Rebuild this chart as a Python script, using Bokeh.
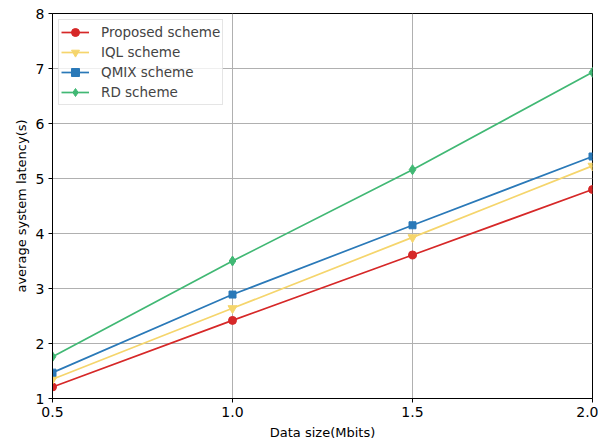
from bokeh.plotting import figure
from bokeh.embed import file_html
from bokeh.resources import INLINE
from bokeh.models import FixedTicker, Range1d

data_size = [0.5, 1.0, 1.5, 2.0]
proposed = [1.21, 2.42, 3.61, 4.80]
iql = [1.35, 2.64, 3.93, 5.23]
qmix = [1.47, 2.89, 4.15, 5.40]
rd = [1.76, 3.50, 5.16, 6.93]

series = [
    ("Proposed scheme", proposed, "#d62828", "circle", 8),
    ("IQL scheme", iql, "#f5d56c", "inverted_triangle", 9),
    ("QMIX scheme", qmix, "#2a79b8", "square", 7),
    ("RD scheme", rd, "#41b874", "diamond", 10),
]

FONT = "DejaVu Sans"

p = figure(width=598, height=445, output_backend="svg", toolbar_location=None,
           x_range=Range1d(0.5, 2.0), y_range=Range1d(1, 8),
           min_border_left=52, min_border_right=6, min_border_top=13, min_border_bottom=47)

for name, ys, color, marker, size in series:
    p.line(data_size, ys, line_color=color, line_width=1.7, legend_label=name)
    p.scatter(data_size, ys, marker=marker, size=size, fill_color=color,
              line_color=color, legend_label=name)

p.xaxis.ticker = FixedTicker(ticks=data_size)
p.xaxis.major_label_overrides = {0.5: "0.5", 1.0: "1.0", 1.5: "1.5", 2.0: "2.0"}
p.yaxis.ticker = FixedTicker(ticks=[1, 2, 3, 4, 5, 6, 7, 8])

for ax in (p.xaxis, p.yaxis):
    ax.axis_line_color = "black"
    ax.axis_line_width = 1
    ax.major_tick_in = 0
    ax.major_tick_out = 4
    ax.major_tick_line_color = "black"
    ax.minor_tick_line_color = None
    ax.major_label_text_font = FONT
    ax.major_label_text_font_size = "14px"
    ax.major_label_text_color = "black"
    ax.axis_label_text_font = FONT
    ax.axis_label_text_font_size = "13px"
    ax.axis_label_text_font_style = "normal"
    ax.axis_label_text_color = "black"

p.xaxis.axis_label = "Data size(Mbits)"
p.yaxis.axis_label = "average system latency(s)"
p.xaxis.axis_label_standoff = 5
p.yaxis.axis_label_standoff = 4
p.xaxis.major_label_standoff = 4
p.yaxis.major_label_standoff = 4

p.xgrid.grid_line_color = "#b0b0b0"
p.ygrid.grid_line_color = "#b0b0b0"
p.xgrid.grid_line_width = 1
p.ygrid.grid_line_width = 1

p.outline_line_color = "black"
p.outline_line_width = 1
p.outline_line_alpha = 1

lg = p.legend[0]
lg.location = "top_left"
lg.margin = 6
lg.padding = 2
lg.spacing = 0
lg.label_height = 20
lg.glyph_height = 20
lg.glyph_width = 28
lg.label_standoff = 12
lg.label_text_font = FONT
lg.label_text_font_size = "13.5px"
lg.border_line_color = "#cccccc"
lg.border_line_width = 1
lg.background_fill_alpha = 0.8

open("out.html", "w").write(file_html(p, INLINE))
